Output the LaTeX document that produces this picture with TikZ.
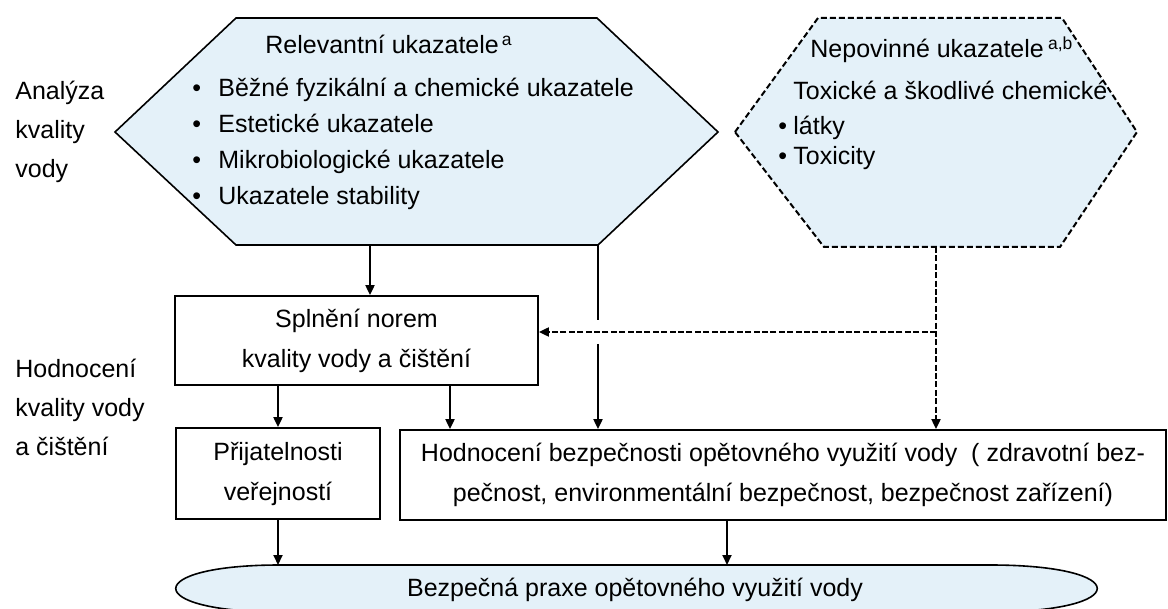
\documentclass[tikz,border=0pt]{standalone}
\usepackage{fontspec}
\setmainfont{Liberation Sans}
\usetikzlibrary{arrows.meta}

\definecolor{hexfill}{RGB}{228,241,249}

\tikzset{
  arr/.style={-{Triangle[length=5pt,width=4.5pt]}, line width=1pt},
  dasharr/.style={arr, dash pattern=on 3pt off 1.2pt},
  box/.style={draw, line width=0.9pt, align=center, inner sep=2pt,
    font=\fontsize{12.5}{20}\selectfont},
  lbl/.style={anchor=base west, inner sep=0pt},
}

\begin{document}
\begin{tikzpicture}[x=0.5pt, y=-0.5pt, font=\fontsize{12.5}{19.5}\selectfont]
\useasboundingbox (0,0) rectangle (1168,609);

% Hexagon with the relevant indicators
\filldraw[fill=hexfill, line width=0.8pt] (115,132) -- (236,18) -- (597,18) -- (718,132)
  -- (598,245) -- (236,245) -- cycle;
% Hexagon with the optional indicators (dashed)
\filldraw[fill=hexfill, line width=1pt, dash pattern=on 3pt off 1.5pt] (735,132) -- (818,18)
  -- (1062,18) -- (1137,132) -- (1060,247) -- (824,247) -- cycle;

% Side labels
\node[anchor=west, align=left, inner sep=0pt] (analyza) at (15,132) {Analýza\\kvality\\vody};
\node[anchor=west, align=left, inner sep=0pt] (hodnlbl) at (15,407) {Hodnocení\\kvality vody\\a čištění};

% Left hexagon text
\node[lbl] (rel) at (265,54) {Relevantní ukazatele\textsuperscript{\,a}};
\foreach \txt [count=\i] in {Běžné fyzikální a chemické ukazatele, Estetické ukazatele,
    Mikrobiologické ukazatele, Ukazatele stability} {
  \node[lbl] (relb\i) at (192,61+36*\i) {\textbullet};
  \node[lbl] (rel\i) at (218,61+36*\i) {\txt};
}

% Right hexagon text
\node[lbl] (nep) at (810,58) {Nepovinné ukazatele\,\textsuperscript{a,b}};
\node[lbl] (nep1) at (793,100) {Toxické a škodlivé chemické};
\node[lbl] (nepb2) at (778,135) {\textbullet};
\node[lbl] (nep2) at (793,135) {látky};
\node[lbl] (nepb3) at (778,165) {\textbullet};
\node[lbl] (nep3) at (793,165) {Toxicity};

% Boxes
\node[box, minimum width=181.5pt, minimum height=44.5pt] (spl) at (356.5,340.5)
  {Splnění norem\\kvality vody a čištění};
\node[box, minimum width=102pt, minimum height=45.5pt] (prij) at (278,473.5)
  {Přijatelnosti\\veřejností};
\node[box, minimum width=383pt, minimum height=45pt] (hodn) at (783,475)
  {Hodnocení bezpečnosti opětovného využití vody\ \ ( zdravotní bez-\\pečnost, environmentální bezpečnost, bezpečnost zařízení)};

% Flat ellipse at the bottom
\filldraw[fill=hexfill, line width=0.8pt] (280,565) -- (990,565)
  .. controls (1133,565) and (1133,612) .. (990,612) -- (280,612)
  .. controls (141,612) and (141,565) .. cycle;
\coordinate (ptop) at (637,565);
\node (praxe) at (635,590) {Bezpečná praxe opětovného využití vody};

% Connectors
\coordinate (relB) at (370,245);
\coordinate (relBR) at (598,245);
\coordinate (nepB) at (936,247);
\coordinate (junc) at (936,332);
\draw[arr] (relB) -- (relB |- spl.north);
\draw[arr] (relBR) -- ++(0,75) ++(0,24) -- (relBR |- hodn.north); % gap at the crossing
\draw[dasharr] (nepB) -- (nepB |- hodn.north);
\draw[dasharr] (junc) -- (junc -| spl.east);
\draw[arr] (prij.north |- spl.south) -- (prij.north);
\draw[arr] (spl.south -| 450,0) -- (hodn.north -| 450,0);
\draw[arr] (prij.south) -- (prij.south |- ptop);
\draw[arr] (hodn.south -| 727,0) -- (ptop -| 727,0);

\end{tikzpicture}
\end{document}
